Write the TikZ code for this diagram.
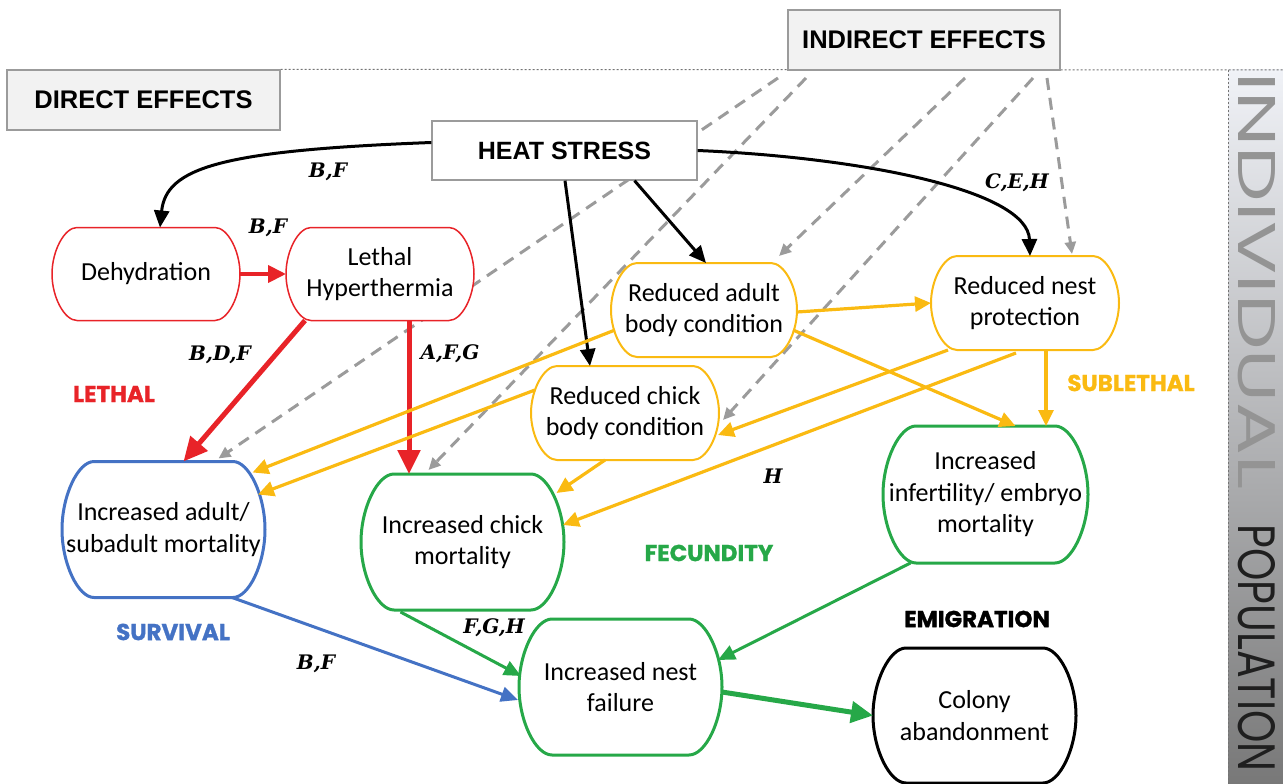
\documentclass[tikz,border=0pt]{standalone}
\usepackage{graphicx}
\usepackage{fontspec}
\setmainfont{Carlito}
\newfontfamily\arialf{Liberation Sans}
\newfontfamily\headf{Poppins}
\newfontfamily\catf{Poppins}[FakeBold=1.2]
\newfontfamily\slabf{DejaVu Serif}
\usetikzlibrary{arrows.meta,calc}
\pgfdeclarelayer{background}
\pgfdeclarelayer{mid}
\pgfsetlayers{background,mid,main}
\definecolor{cred}{RGB}{232,35,40}
\definecolor{cyel}{RGB}{250,186,18}
\definecolor{cgrn}{RGB}{38,168,72}
\definecolor{cblu}{RGB}{68,114,196}
\definecolor{cgry}{RGB}{155,155,155}
\definecolor{barTop}{RGB}{240,242,247}
\definecolor{barBot}{RGB}{120,120,120}
% pill border: #1 node, #2 bulge, #3 options
\newcommand\pillborder[3]{%
  \begin{pgfonlayer}{mid}
  \path[fill=white,#3] ($(#1.north west)+(#2,0)$) -- ($(#1.north east)+(-#2,0)$)
    .. controls ($(#1.north east)+(-0.5*#2,0)$) and ($(#1.east)!0.5!(#1.north east)$) .. (#1.east)
    .. controls ($(#1.east)!0.5!(#1.south east)$) and ($(#1.south east)+(-0.5*#2,0)$) .. ($(#1.south east)+(-#2,0)$)
    -- ($(#1.south west)+(#2,0)$)
    .. controls ($(#1.south west)+(0.5*#2,0)$) and ($(#1.west)!0.5!(#1.south west)$) .. (#1.west)
    .. controls ($(#1.west)!0.5!(#1.north west)$) and ($(#1.north west)+(0.5*#2,0)$) .. cycle;
  \end{pgfonlayer}}
\begin{document}
\begin{tikzpicture}[x=1pt,y=1pt,
  base/.style={rectangle, inner sep=0pt, outer sep=0pt, align=center, font=\fontsize{26}{31.5}\selectfont},
  smallbox/.style={base, minimum width=188pt, minimum height=93pt},
  bigbox/.style={base, minimum width=203pt, minimum height=136pt},
  lbl/.style={font=\slabf\bfseries\itshape\fontsize{20}{24}\selectfont, inner sep=0pt},
  cat/.style={font=\catf\bfseries\fontsize{23}{27}\selectfont, inner sep=0pt},
  hdr/.style={draw=cgry, fill=black!5, line width=1.3pt, font=\arialf\bfseries\fontsize{25.5}{30}\selectfont, inner sep=0pt},
  redline/.style={draw=cred, line width=1.5pt},
  yelline/.style={draw=cyel, line width=2pt},
  bigline/.style={draw=#1, line width=3pt},
  blk/.style={draw=black, line width=3pt, -{Triangle[length=17pt,width=15pt]}},
  redar/.style={draw=cred, line width=5pt, -{Triangle[length=24pt,width=22pt]}},
  yelar/.style={draw=cyel, line width=3.2pt, -{Triangle[length=16pt,width=15pt]}},
  grnar/.style={draw=cgrn, line width=3pt, -{Triangle[length=17pt,width=15pt]}},
  grnthick/.style={draw=cgrn, line width=5pt, -{Triangle[length=22pt,width=21pt]}},
  bluar/.style={draw=cblu, line width=3pt, -{Triangle[length=17pt,width=15pt]}},
  dsh/.style={draw=cgry, line width=3pt, dash pattern=on 12pt off 8pt, -{Triangle[length=12pt,width=11pt]}},
  dotln/.style={draw=black!55, line width=1pt, dash pattern=on 2pt off 2pt}
]
\useasboundingbox (0,0) rectangle (1283,-784);

% header boxes
\node[hdr, minimum width=273pt, minimum height=60pt] (direct) at (143.5,-100) {DIRECT EFFECTS};
\node[hdr, minimum width=272pt, minimum height=60pt] (indirect) at (924,-40) {INDIRECT EFFECTS};
\node[draw=cgry, fill=white, line width=1.3pt, minimum width=265pt, minimum height=59pt, inner sep=0pt,
      font=\arialf\bfseries\fontsize{25}{30}\selectfont] (heat) at (564.5,-150.5) {HEAT STRESS};

% effect nodes
\node[smallbox] (dehyd) at (146,-274) {Dehydration};
\node[smallbox] (lethal) at (380,-274) {Lethal\\Hyperthermia};
\node[smallbox, minimum width=186pt, minimum height=94pt] (adultbc) at (704,-310) {Reduced adult\\body condition};
\node[smallbox, minimum height=94pt] (nestprot) at (1025,-303) {Reduced nest\\protection};
\node[smallbox, minimum height=94pt] (chickbc) at (625,-413) {Reduced chick\\body condition};
\node[bigbox] (adultmort) at (163.5,-529.5) {Increased adult/\\subadult mortality};
\node[bigbox] (chickmort) at (462.5,-542) {Increased chick\\mortality};
\node[bigbox, minimum width=205pt, minimum height=137pt] (infert) at (985.5,-494.5) {Increased\\infertility/ embryo\\mortality};
\node[bigbox] (nestfail) at (620.5,-687) {Increased nest\\failure};
\node[bigbox, minimum height=135pt] (colony) at (974.5,-715.5) {Colony\\abandonment};

\pillborder{dehyd}{25}{redline}
\pillborder{lethal}{25}{redline}
\pillborder{adultbc}{26}{yelline}
\pillborder{nestprot}{26}{yelline}
\pillborder{chickbc}{26}{yelline}
\pillborder{adultmort}{32}{bigline=cblu}
\pillborder{chickmort}{33}{bigline=cgrn}
\pillborder{infert}{33}{bigline=cgrn}
\pillborder{nestfail}{33}{bigline=cgrn}
\pillborder{colony}{33}{bigline=black}

% category labels
\node[cat, text=cred] (tlethal) at (114,-394) {LETHAL};
\node[cat, text=cyel] (tsub) at (1131,-383) {SUBLETHAL};
\node[cat, text=cgrn] (tfec) at (709,-553) {FECUNDITY};
\node[cat, text=cblu] (tsurv) at (173,-632) {SURVIVAL};
\node[cat, text=black] (temig) at (977,-619) {EMIGRATION};

% reference labels
\node[lbl] (l1) at (328,-172) {B,F};
\node[lbl] (l2) at (268,-228) {B,F};
\node[lbl] (l3) at (1017,-183) {C,E,H};
\node[lbl] (l4) at (220,-355) {B,D,F};
\node[lbl] (l5) at (450,-354) {A,F,G};
\node[lbl] (l6) at (773,-476) {H};
\node[lbl] (l7) at (494,-628) {F,G,H};
\node[lbl] (l8) at (316,-664) {B,F};

\begin{pgfonlayer}{background}
  % population bar
  \shade[top color=barTop, bottom color=barBot] (1228,-70) rectangle (1283,-784);
  \draw[dotln] (direct.north east) -- (1283,-70);
  \draw[dotln] (1228,-70) -- (1228,-784);
  \node[rotate=-90, text=black!42, inner sep=0pt] (indiv) at (1257,-281) {\resizebox{417pt}{37pt}{\headf INDIVIDUAL}};
  \node[rotate=-90, text=black!88, inner sep=0pt] (popul) at (1257,-648) {\resizebox{247pt}{37pt}{\headf POPULATION}};
  % indirect dashed arrows
  \coordinate (iA) at (778,-78);
  \coordinate (iB) at (806,-78);
  \coordinate (iC) at (965,-78);
  \coordinate (iD) at (1033,-78);
  \coordinate (iE) at (1047,-78);
  \draw[dsh] (iA) -- ($(adultmort.north)+(55,3)$);
  \draw[dsh] (iB) -- ($(chickmort.north)+(-34,4)$);
  \draw[dsh] (iC) -- ($(adultbc.north)+(75,7)$);
  \draw[dsh] (iD) -- ($(chickbc.east)+(4,-7)$);
  \draw[dsh] (iE) -- ($(nestprot.north)+(47,2)$);
\end{pgfonlayer}

% black arrows from heat stress
\draw[blk] ($(heat.west)+(0,8)$) .. controls ($(heat.west)+(-210,0)$) and ($(dehyd.north)+(20,60)$) .. ($(dehyd.north)+(14,0)$);
\draw[blk] ($(heat.south)+(0.5,0)$) -- ($(chickbc.north)+(-35,0)$);
\draw[blk] ($(heat.south)+(70,0)$) -- ($(adultbc.north)+(2,0)$);
\draw[blk] (heat.east) .. controls ($(heat.east)+(163,-7)$) and ($(nestprot.north)+(3,66)$) .. ($(nestprot.north)+(5,0)$);

% red arrows
\draw[redar, line width=4pt, -{Triangle[length=18pt,width=17pt]}] (dehyd.east) -- (lethal.west);
\draw[redar] ($(lethal.south)+(-75,0)$) -- ($(adultmort.north)+(20,0)$);
\draw[redar] ($(lethal.south)+(29,0)$) -- ($(chickmort.north)+(-53.5,0)$);

% yellow arrows
\draw[yelar] ($(adultbc.east)+(0,-2)$) -- (nestprot.west);
\draw[yelar] ($(adultbc.east)+(-4,-20)$) -- ($(infert.north)+(30,0)$);
\draw[yelar] ($(adultbc.west)+(4,-20)$) -- ($(adultmort.north)+(89,-11)$);
\draw[yelar] ($(chickbc.west)+(4,23)$) -- ($(adultmort.east)+(-7,35)$);
\draw[yelar] ($(nestprot.south)+(-77,0)$) -- ($(chickbc.east)+(-1,-22)$);
\draw[yelar] ($(nestprot.south)+(-9,-3)$) -- ($(chickmort.east)+(-1,17)$);
\draw[yelar] ($(nestprot.south)+(21,0)$) -- ($(infert.north)+(60.5,0)$);
\draw[yelar] ($(chickbc.south)+(-20,0)$) -- ($(chickmort.north)+(94,-19)$);

% green arrows
\draw[grnar] ($(chickmort.south)+(-62,-2)$) -- ($(nestfail.west)+(2,11)$);
\draw[grnar] ($(infert.south)+(-75,0)$) -- ($(nestfail.east)+(-4,27)$);
\draw[grnthick] ($(nestfail.east)+(0,-5)$) -- (colony.west);

% blue arrow
\draw[bluar] ($(adultmort.south)+(68.5,0)$) -- ($(nestfail.west)+(-1,-13)$);
\end{tikzpicture}
\end{document}
